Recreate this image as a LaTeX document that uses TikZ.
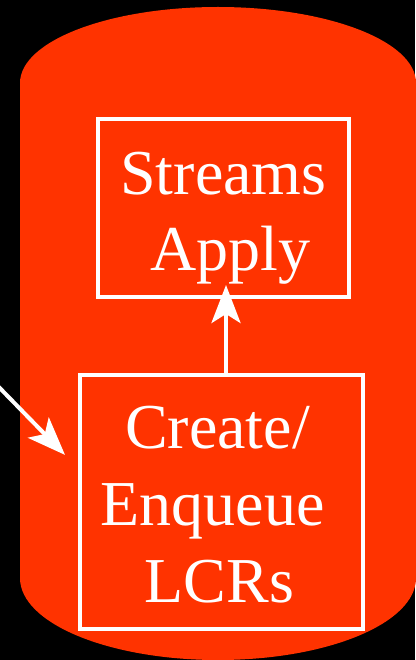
\documentclass[tikz,border=0pt]{standalone}
\usepackage{fontspec}
\setmainfont{Liberation Serif}
\usetikzlibrary{arrows.meta}

\definecolor{drum}{HTML}{FF3300}

\tikzset{
  stagebox/.style={draw=white, line width=4pt, outer sep=0pt, inner sep=0pt},
  caption/.style={text=white, font=\fontsize{64}{76}\selectfont, anchor=base, inner sep=0pt},
  flow/.style={draw=white, line width=4pt,
    -{Stealth[length=38pt, width=29pt, inset=9pt]}}
}

\begin{document}
\begin{tikzpicture}[x=1pt, y=-1pt]
  % black page
  \fill[black] (0,0) rectangle (415,660);
  \useasboundingbox (0,0) rectangle (415,660);

  % the queue drum: side walls with elliptic top and bottom
  \fill[drum]
    (20,83) arc[start angle=180, end angle=0, x radius=198, y radius=-76]
    -- (416,578)
    arc[start angle=0, end angle=-180, x radius=198, y radius=-82]
    -- cycle;

  % processing stages
  \node[stagebox, minimum width=251pt, minimum height=178pt] (apply) at (223,208) {};
  \node[stagebox, minimum width=283pt, minimum height=254.5pt] (lcr) at (221,502) {};

  \node[caption] (t1) at (223.5,195) {Streams};
  \node[caption] (t2) at (230,270) {Apply};
  \node[caption] (t3) at (217.5,448) {Create/};
  \node[caption] (t4) at (212.5,525) {Enqueue};
  \node[caption] (t5) at (219.5,602) {LCRs};

  % incoming changes and hand-off to apply
  \coordinate (feed) at (-10,378);
  \draw[flow, shorten >=20.8pt] (feed) -- ([yshift=-95pt]lcr.north west);
  \draw[flow, shorten >=-12pt] (lcr.north -| 226,0) -- (apply.south -| 226,0);
\end{tikzpicture}
\end{document}
